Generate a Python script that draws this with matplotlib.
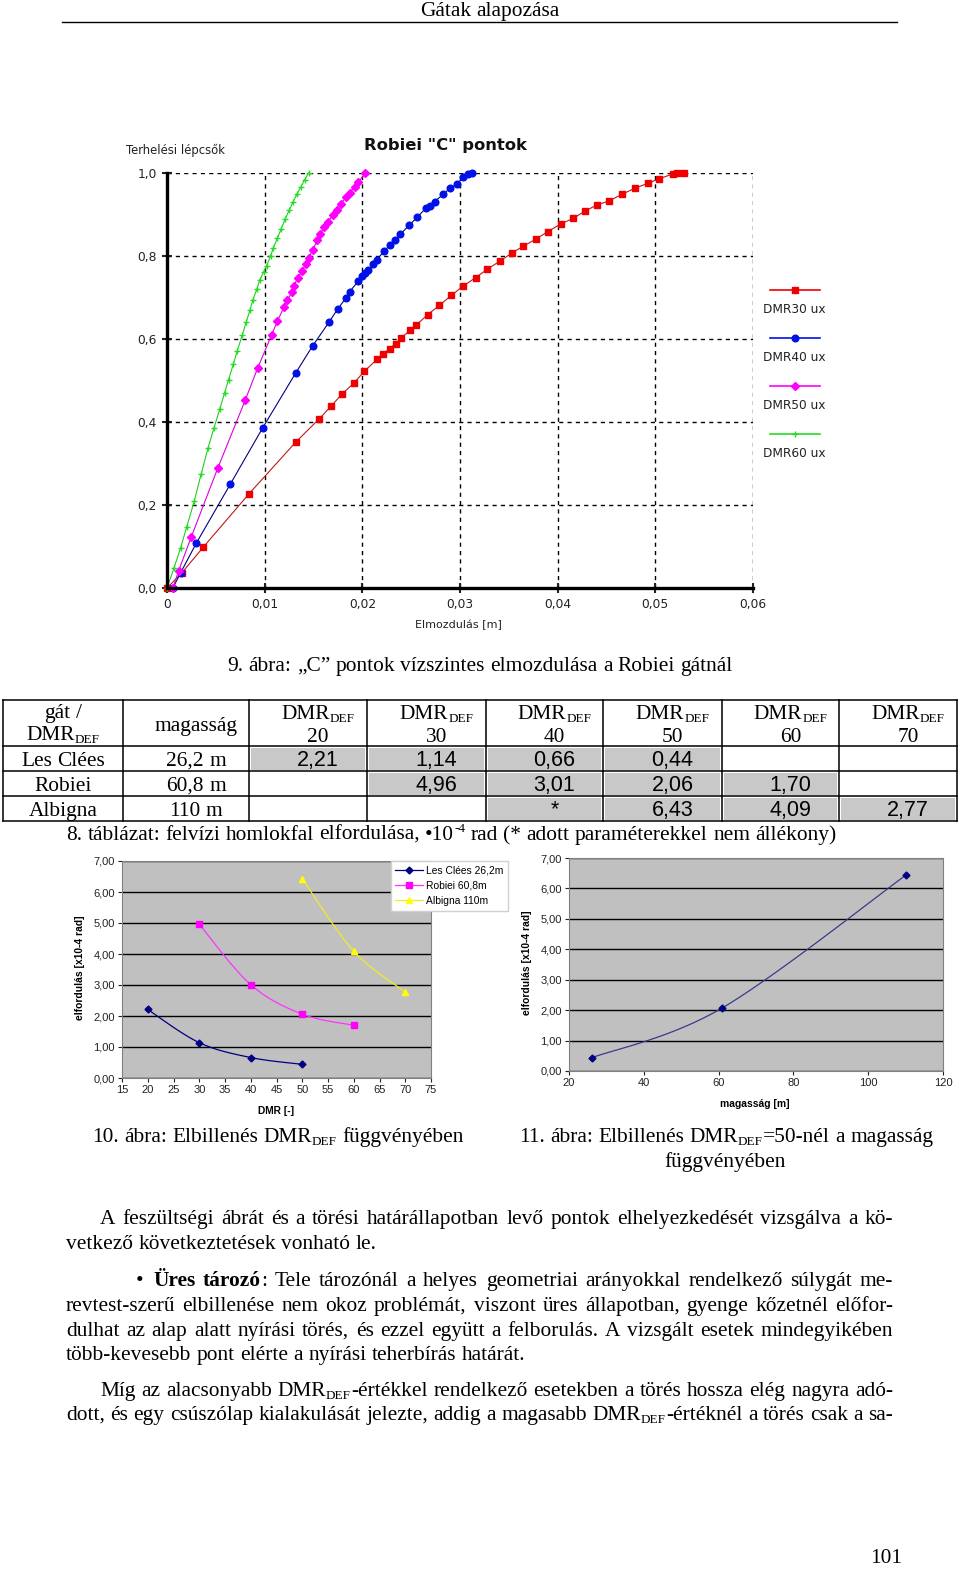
import re
import numpy as np
import matplotlib
matplotlib.use('Agg')
import matplotlib.pyplot as plt
from matplotlib.patches import Rectangle

W, H = 960, 1571
SERIF = 'Liberation Serif'
SANS = 'Liberation Sans'
FS = 15.4   # page text size
nan = np.nan

# ---- Robiei "C" pontok: displacement [m] vs load step ----
dmr30_x = [0, 0.0015, 0.0037, 0.0084, 0.0132, 0.0156, 0.0168, 0.0179, 0.0191, 0.0202,
           0.0215, 0.0221, 0.0228, 0.0234, 0.0240, 0.0249, 0.0255, 0.0267, 0.0279, 0.0291,
           0.0303, 0.0316, 0.0328, 0.0341, 0.0353, 0.0365, 0.0378, 0.0390, 0.0403, 0.0416,
           0.0428, 0.0440, 0.0453, 0.0466, 0.0479, 0.0492, 0.0504, 0.0518, 0.0522, 0.0529]
dmr30_y = [0, 0.036, 0.098, 0.227, 0.352, 0.408, 0.438, 0.467, 0.493, 0.522,
           0.551, 0.563, 0.577, 0.589, 0.603, 0.621, 0.633, 0.659, 0.681, 0.705,
           0.727, 0.748, 0.768, 0.788, 0.807, 0.824, 0.841, 0.859, 0.877, 0.891,
           0.908, 0.923, 0.933, 0.949, 0.963, 0.975, 0.986, 0.998, 1.0, 1.0]
dmr40_x = [0.0006, 0.0014, 0.0030, 0.0065, 0.0098, 0.0132, 0.0149, 0.0166, 0.0175, 0.0183,
           0.0187, 0.0196, 0.0200, 0.0203, 0.0206, 0.0211, 0.0215, 0.0222, 0.0228, 0.0233,
           0.0239, 0.0248, 0.0256, 0.0265, 0.0269, 0.0274, 0.0283, 0.0290, 0.0297, 0.0303,
           0.0308, 0.0312]
dmr40_y = [0.0, 0.037, 0.108, 0.251, 0.386, 0.519, 0.583, 0.641, 0.673, 0.698,
           0.714, 0.740, 0.751, 0.760, 0.766, 0.780, 0.791, 0.811, 0.826, 0.838,
           0.853, 0.874, 0.893, 0.915, 0.921, 0.931, 0.949, 0.964, 0.973, 0.990,
           0.998, 1.0]
dmr50_x = [0.0006, 0.0012, 0.0025, 0.0052, 0.0080, 0.0093, 0.0107, 0.0113, 0.0120, 0.0123,
           0.0128, 0.0130, 0.0134, 0.0138, 0.0142, 0.0145, 0.0149, 0.0154, 0.0157, 0.0161,
           0.0165, 0.0170, 0.0174, 0.0178, 0.0183, 0.0187, 0.0192, 0.0196, 0.0203]
dmr50_y = [0.0, 0.042, 0.124, 0.289, 0.452, 0.531, 0.609, 0.643, 0.678, 0.693,
           0.713, 0.728, 0.748, 0.763, 0.780, 0.794, 0.814, 0.838, 0.853, 0.869,
           0.883, 0.899, 0.911, 0.925, 0.941, 0.953, 0.966, 0.978, 1.0]
dmr60_x = [0, 0.0007, 0.0014, 0.0020, 0.0028, 0.0035, 0.0042, 0.0048, 0.0054, 0.0059,
           0.0063, 0.0068, 0.0072, 0.0077, 0.0081, 0.0085, 0.0088, 0.0092, 0.0095, 0.0099,
           0.0102, 0.0106, 0.0109, 0.0113, 0.0117, 0.0121, 0.0125, 0.0129, 0.0133, 0.0137,
           0.0141, 0.0145]
dmr60_y = [0, 0.047, 0.097, 0.146, 0.21, 0.275, 0.337, 0.385, 0.431, 0.47,
           0.502, 0.54, 0.572, 0.609, 0.64, 0.67, 0.695, 0.72, 0.742, 0.762,
           0.776, 0.80, 0.82, 0.843, 0.866, 0.889, 0.910, 0.930, 0.949, 0.966,
           0.984, 1.0]

# ---- 8. táblázat: rotation of upstream face, 1e-4 rad ----
dams = ['Les Clées', 'Robiei', 'Albigna']
dam_height = [26.2, 60.8, 110]
dam_height_lbl = ['26,2 m', '60,8 m', '110 m']
dmr_levels = [20, 30, 40, 50, 60, 70]
rot_les = [2.21, 1.14, 0.66, 0.44, nan, nan]
rot_rob = [nan, 4.96, 3.01, 2.06, 1.70, nan]
rot_alb = [nan, nan, nan, 6.43, 4.09, 2.77]
unstable = [('Albigna', 40)]   # "*" in the table

fig = plt.figure(figsize=(9.6, 15.71), dpi=100)
page = fig.add_axes([0, 0, 1, 1])
page.set_xlim(0, W)
page.set_ylim(H, 0)
page.axis('off')
renderer = fig.canvas.get_renderer()

TOK = re.compile(r'(_\{[^}]*\}|\^\{[^}]*\}|\*[^*]+\*)')


def pieces_of(word):
    out = []
    for tok in TOK.split(word):
        if not tok:
            continue
        if tok.startswith('_{'):
            out.append((tok[2:-1], 'normal', 0.62, -0.12))
        elif tok.startswith('^{'):
            out.append((tok[2:-1], 'normal', 0.62, 0.38))
        elif tok.startswith('*') and len(tok) > 1:
            out.append((tok[1:-1], 'bold', 1.0, 0))
        else:
            out.append((tok, 'normal', 1.0, 0))
    return out


def draw_line(line, y, x0, x1=None, ha='left', size=FS, family=SERIF, justify=False):
    px = size * 100 / 72
    words = []
    for w in line.split(' '):
        objs = []
        for s, wt, sc, dy in pieces_of(w):
            t = page.text(0, y - dy * px, s, fontsize=size * sc, weight=wt,
                          family=family, va='baseline', ha='left')
            objs.append((t, t.get_window_extent(renderer=renderer).width))
        words.append(objs)
    widths = [sum(w for _, w in objs) for objs in words]
    gap = 0.25 * px
    if justify and len(words) > 1:
        gap = (x1 - x0 - sum(widths)) / (len(words) - 1)
    total = sum(widths) + gap * (len(words) - 1)
    x = {'left': x0, 'center': x0 - total / 2, 'right': x0 - total}[ha]
    for objs, ww in zip(words, widths):
        xx = x
        for t, w in objs:
            t.set_x(xx)
            xx += w
        x += ww + gap


# ---- page header ----
draw_line('Gátak alapozása', 16, 490, ha='center')
page.plot([62, 897], [22, 22], color='black', lw=1)

# ---- top chart ----
ax = fig.add_axes([167 / W, 1 - 588 / H, (753 - 167) / W, (588 - 173) / H])
ax.set_xlim(0, 0.06)
ax.set_ylim(0, 1.0)
for s in ['top', 'right']:
    ax.spines[s].set_visible(False)
for s in ['left', 'bottom']:
    ax.spines[s].set_linewidth(2.4)
ax.set_xticks(np.arange(0, 0.061, 0.01))
ax.set_xticklabels(['0', '0,01', '0,02', '0,03', '0,04', '0,05', '0,06'])
ax.set_yticks(np.arange(0, 1.01, 0.2))
ax.set_yticklabels(['0,0', '0,2', '0,4', '0,6', '0,8', '1,0'])
ax.tick_params(direction='inout', length=7, width=1.5, labelsize=8.8, colors='#222222', pad=4)
for lab in ax.get_xticklabels() + ax.get_yticklabels():
    lab.set_family('DejaVu Sans')
ax.grid(True, color='black', linestyle=(0, (3, 3)), linewidth=1)
ax.set_axisbelow(True)

series = [
    ('DMR30 ux', dmr30_x, dmr30_y, '#c01818', 's', '#ee0000', 4.5),
    ('DMR40 ux', dmr40_x, dmr40_y, '#000080', 'o', '#0010e8', 4.8),
    ('DMR50 ux', dmr50_x, dmr50_y, '#dd00dd', 'D', '#ff00ff', 4.2),
    ('DMR60 ux', dmr60_x, dmr60_y, '#22cc22', '+', '#22dd22', 4.5),
]
for name, xs, ys, lc, mk, mc, ms in series:
    ax.plot(xs, ys, color=lc, lw=0.8, marker=mk, mfc=mc, mec=mc, ms=ms, clip_on=False)

for i, (name, xs, ys, lc, mk, mc, ms) in enumerate(series):
    yl = 290 + 48 * i
    page.plot([770, 820], [yl, yl], color=mc, lw=1.2)
    page.plot([795], [yl], marker=mk, color=mc, ms=ms)
    page.text(763, yl + 19, name, fontsize=8.7, family='DejaVu Sans', va='center', ha='left',
              color='#222222')

page.text(445, 145, 'Robiei "C" pontok', fontsize=11.8, weight='bold', family='DejaVu Sans',
          ha='center', va='center', color='#111111')
page.text(126, 150, 'Terhelési lépcsők', fontsize=8.4, family='DejaVu Sans', ha='left',
          va='center', color='#222222')
page.text(458, 625, 'Elmozdulás [m]', fontsize=8, family='DejaVu Sans', ha='center',
          va='center', color='#222222')

draw_line('9. ábra: „C” pontok vízszintes elmozdulása a Robiei gátnál', 671, 480, ha='center')

# ---- table ----
cols = [3, 123, 249, 367, 486, 603, 722, 839, 957]
rows = [700, 746, 771, 796, 821]
rot_table = [rot_les, rot_rob, rot_alb]
for r, (dam, vals) in enumerate(zip(dams, rot_table)):
    y0, y1 = rows[r + 1], rows[r + 2]
    yb = (y0 + y1) / 2 + 7
    draw_line(dam, yb, (cols[0] + cols[1]) / 2, ha='center')
    draw_line(dam_height_lbl[r], yb, (cols[1] + cols[2]) / 2 + 10, ha='center')
    for c, (lvl, v) in enumerate(zip(dmr_levels, vals)):
        star = (dam, lvl) in unstable
        if np.isnan(v) and not star:
            continue
        x0, x1 = cols[c + 2], cols[c + 3]
        page.add_patch(Rectangle((x0 + 2, y0 + 2), x1 - x0 - 4, y1 - y0 - 3,
                                 facecolor='#c8c8c8', edgecolor='none'))
        s = '*' if star else f'{v:.2f}'.replace('.', ',')
        page.text((x0 + x1) / 2 + 10, yb, s, fontsize=15.5, family=SANS, ha='center',
                  va='baseline')
for y in rows:
    page.plot([cols[0], cols[-1]], [y, y], color='black', lw=1.1)
for x in cols:
    page.plot([x, x], [rows[0], rows[-1]], color='black', lw=1.1)

draw_line('gát /', 718, 63, ha='center')
draw_line('DMR_{DEF}', 740, 63, ha='center')
draw_line('magasság', 731, 196, ha='center')
for c, lvl in enumerate(dmr_levels):
    xc = (cols[c + 2] + cols[c + 3]) / 2 + 10
    draw_line('DMR_{DEF}', 719, xc, ha='center')
    draw_line(str(lvl), 742, xc, ha='center')

draw_line('8. táblázat: felvízi homlokfal elfordulása, •10^{-4} rad (* adott paraméterekkel nem állékony)',
          840, 66)


# ---- smoothed lines as in the spreadsheet charts ----
def smooth(xs, ys, n=24):
    p = np.column_stack([xs, ys]).astype(float)
    p = np.vstack([p[0], p, p[-1]])
    t = np.linspace(0, 1, n)[:, None]
    segs = []
    for i in range(1, len(p) - 2):
        p0, p1, p2, p3 = p[i - 1], p[i], p[i + 1], p[i + 2]
        segs.append(0.5 * (2 * p1 + (-p0 + p2) * t + (2 * p0 - 5 * p1 + 4 * p2 - p3) * t ** 2
                           + (-p0 + 3 * p1 - 3 * p2 + p3) * t ** 3))
    s = np.vstack(segs)
    return s[:, 0], s[:, 1]


def excel_axes(rect, xlim, xticks):
    a = fig.add_axes(rect)
    a.set_facecolor('#c0c0c0')
    a.set_xlim(*xlim)
    a.set_ylim(0, 7)
    a.set_xticks(xticks)
    a.set_yticks(range(8))
    a.set_yticklabels([f'{v:.2f}'.replace('.', ',') for v in range(8)])
    a.grid(axis='y', color='black', lw=1)
    a.set_axisbelow(True)
    for s in a.spines.values():
        s.set_color('#808080')
        s.set_linewidth(0.8)
    a.tick_params(labelsize=8, length=3, width=0.8, pad=2, colors='#222222')
    for lab in a.get_xticklabels() + a.get_yticklabels():
        lab.set_family(SANS)
    return a


ax2 = excel_axes([122 / W, 1 - 1078 / H, 309 / W, 217 / H], (15, 75), range(15, 76, 5))
styles = [('#000080', 'D', '#000080', 3.5), ('#ff33ff', 's', '#ff00ff', 4.5),
          ('#eeee22', '^', '#ffff00', 5)]
for dam, hgt, vals, (lc, mk, mc, ms) in zip(dams, dam_height_lbl, rot_table, styles):
    xs = [d for d, v in zip(dmr_levels, vals) if not np.isnan(v)]
    ys = [v for v in vals if not np.isnan(v)]
    sx, sy = smooth(xs, ys)
    ax2.plot(sx, sy, color=lc, lw=0.9)
    ax2.plot(xs, ys, ls='none', marker=mk, mfc=mc, mec=mc, ms=ms)
    ax2.plot([], [], color=lc, lw=0.9, marker=mk, mfc=mc, mec=mc, ms=ms,
             label=f'{dam} {hgt.replace(" ", "")}')
leg = ax2.legend(loc='upper left', bbox_to_anchor=(0.87, 1.0), frameon=True, fancybox=False,
                 edgecolor='#d0d0d0', facecolor='white', framealpha=1,
                 prop={'family': SANS, 'size': 7.4}, handlelength=2.7, borderpad=0.45,
                 labelspacing=0.5, handletextpad=0.3, borderaxespad=0)
page.text(80, 968, 'elfordulás [x10-4 rad]', rotation=90, fontsize=7.4, weight='bold',
          family=SANS, ha='center', va='center')
page.text(276, 1111, 'DMR [-]', fontsize=7.4, weight='bold', family=SANS, ha='center', va='center')

ax3 = excel_axes([569 / W, 1 - 1071 / H, 374 / W, 213 / H], (20, 120), range(20, 121, 20))
i50 = dmr_levels.index(50)
h50 = dam_height
r50 = [rot_les[i50], rot_rob[i50], rot_alb[i50]]
sx, sy = smooth(h50, r50)
ax3.plot(sx, sy, color='#3a3a8c', lw=0.9)
ax3.plot(h50, r50, ls='none', marker='D', mfc='#000080', mec='#000080', ms=3.5)
page.text(527, 963, 'elfordulás [x10-4 rad]', rotation=90, fontsize=7.4, weight='bold',
          family=SANS, ha='center', va='center')
page.text(755, 1104, 'magasság [m]', fontsize=7.4, weight='bold', family=SANS, ha='center',
          va='center')

draw_line('10. ábra: Elbillenés DMR_{DEF} függvényében', 1142, 278, ha='center')
draw_line('11. ábra: Elbillenés DMR_{DEF}=50-nél a magasság', 1142, 726, ha='center')
draw_line('függvényében', 1167, 725, ha='center')

# ---- body text ----
L, R = 66, 893
draw_line('A feszültségi ábrát és a törési határállapotban levő pontok elhelyezkedését '
          'vizsgálva a kö-', 1224, 100, R, justify=True)
draw_line('vetkező következtetések vonható le.', 1249, L)
page.text(136, 1286, '•', fontsize=FS, family=SERIF, va='baseline')
draw_line('*Üres* *tározó*: Tele tározónál a helyes geometriai arányokkal rendelkező '
          'súlygát me-', 1286, 153, R, justify=True)
draw_line('revtest-szerű elbillenése nem okoz problémát, viszont üres állapotban, gyenge '
          'kőzetnél előfor-', 1311, L, R, justify=True)
draw_line('dulhat az alap alatt nyírási törés, és ezzel együtt a felborulás. A vizsgált '
          'esetek mindegyikében', 1336, L, R, justify=True)
draw_line('több-kevesebb pont elérte a nyírási teherbírás határát.', 1360, L)
draw_line('Míg az alacsonyabb DMR_{DEF}-értékkel rendelkező esetekben a törés hossza elég '
          'nagyra adó-', 1396, 100, R, justify=True)
draw_line('dott, és egy csúszólap kialakulását jelezte, addig a magasabb DMR_{DEF}-értéknél '
          'a törés csak a sa-', 1420, L, R, justify=True)
draw_line('101', 1563, 886, ha='center')

fig.savefig('out.png', dpi=100)
